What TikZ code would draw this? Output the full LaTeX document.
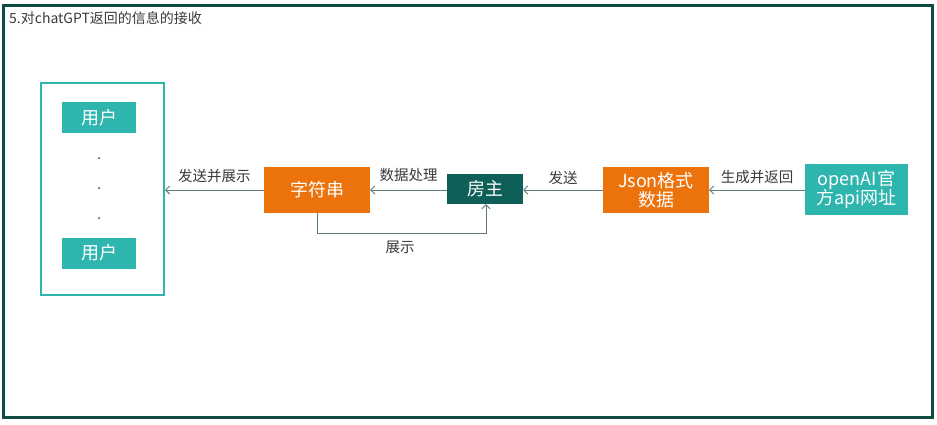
\documentclass[tikz,border=0pt]{standalone}
\usepackage{fontspec}
\setmainfont{Noto Sans CJK SC}
\usetikzlibrary{arrows.meta}
\definecolor{frame}{HTML}{0F4A44}
\definecolor{tealc}{HTML}{2DB5AE}
\definecolor{orangec}{HTML}{EC720C}
\definecolor{darkt}{HTML}{0E5F57}
\definecolor{linec}{HTML}{5E7C7C}
\definecolor{txt}{HTML}{3A3A3A}
\tikzset{
  box/.style={draw=none, minimum width=#1, inner sep=0pt, text=white, font=\fontsize{18}{21}\selectfont, align=center},
  conn/.style={draw=linec, line width=0.9pt, -{Straight Barb[length=4pt,width=8pt]}},
  lbl/.style={text=txt, font=\fontsize{14.5}{17}\selectfont, inner sep=0pt}
}
\begin{document}
\begin{tikzpicture}[x=1pt,y=-1pt]
\useasboundingbox (0,0) rectangle (937,424);
\fill[white] (0,0) rectangle (937,424);
\draw[frame, line width=3pt] (3.5,5.5) rectangle (932,417.5);
\node[lbl, anchor=west, font=\fontsize{14}{16}\selectfont] (title) at (9,18) {5.对chatGPT返回的信息的接收};
% users container
\node[draw=tealc, line width=2pt, minimum width=123pt, minimum height=212pt, inner sep=0pt] (users) at (102.5,189) {};
\node[box=74pt, fill=tealc, minimum height=31pt] (u1) at (99,117.5) {用户};
\node[box=74pt, fill=tealc, minimum height=31pt] (u2) at (99,253) {用户};
\fill[txt] (99,158) circle (1pt) (99,188) circle (1pt) (99,218) circle (1pt);
% main nodes
\node[box=106pt, fill=orangec, minimum height=46pt] (str) at (317,190) {字符串};
\node[box=76pt, fill=darkt, minimum height=30pt] (host) at (485,189) {房主};
\node[box=106pt, fill=orangec, minimum height=46pt] (json) at (656,190) {Json格式\\[-2pt]数据};
\node[box=103pt, fill=tealc, minimum height=51pt] (api) at (856.5,189.5) {openAI官\\[-2pt]方api网址};
% connectors
\draw[conn] (api.west |- 0,190) -- (json.east |- 0,190) node[lbl, midway, above=6pt] {生成并返回};
\draw[conn] (json.west |- 0,190) -- (host.east |- 0,190) node[lbl, midway, above=5pt] {发送};
\draw[conn] (host.west |- 0,190) -- (str.east |- 0,190) node[lbl, midway, above=8pt] {数据处理};
\draw[conn] (str.west |- 0,190) -- (users.east |- 0,190) node[lbl, midway, above=7pt] {发送并展示};
\draw[conn] (str.south) -- (317,233) -- (486,233) -- (host.south -| 486,0);
\node[lbl] (show) at (400,247) {展示};
\end{tikzpicture}
\end{document}
